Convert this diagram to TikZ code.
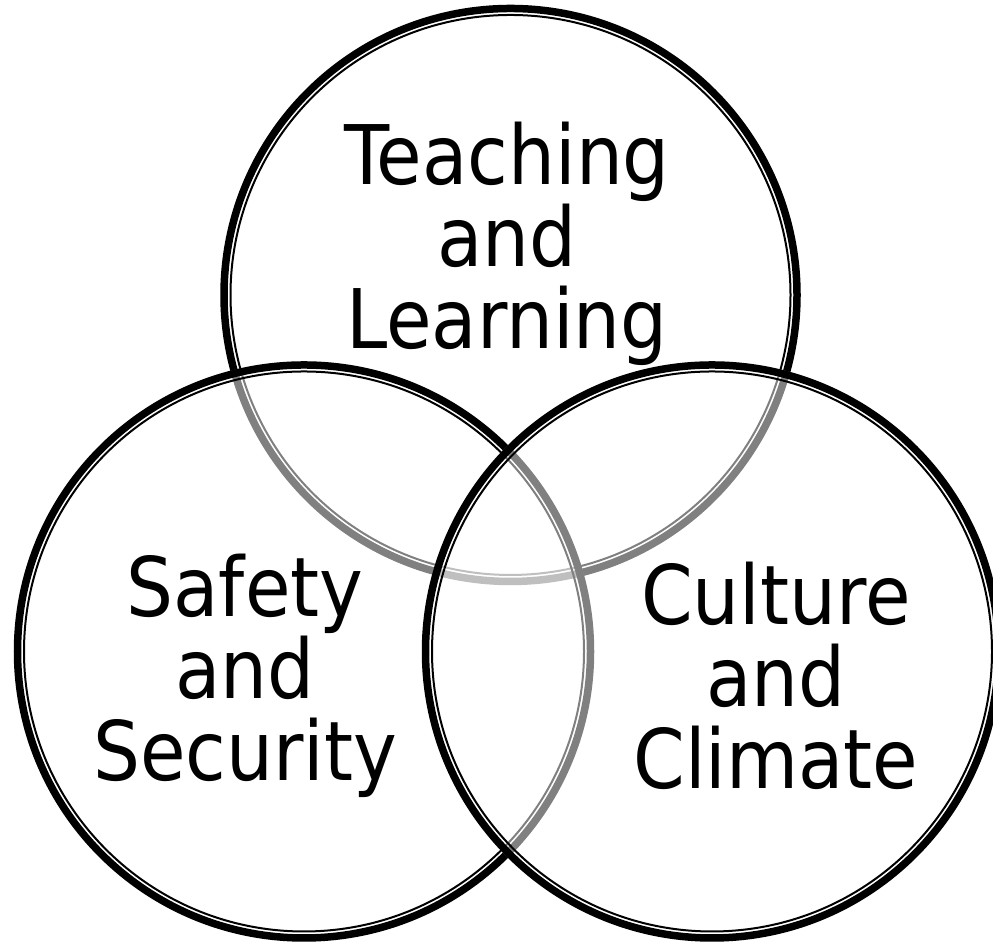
\documentclass[tikz,border=0pt]{standalone}
\usepackage{fontspec}
\setmainfont[FakeStretch=0.9]{DejaVu Sans}
\usepackage{tikz}
\usepackage{xcolor}

\tikzset{
  veil/.style={fill=white, fill opacity=0.5},
  outerring/.style={draw=black, line width=0.075cm},
  innerring/.style={draw=black, line width=0.02cm},
  label/.style={align=center, inner sep=0pt, font=\fontsize{23.4}{23.4}\selectfont}
}

\begin{document}
\begin{tikzpicture}
  \useasboundingbox (0,0) rectangle (9.93,9.42);
  \clip (0,0) rectangle (9.93,9.42);

  \coordinate (teach) at (5.105,6.47);
  \coordinate (safe) at (3.04,2.905);
  \coordinate (cult) at (7.12,2.905);

  % top circle first, then left, then right
  \fill[veil] (teach) circle (2.90);
  \draw[outerring] (teach) circle (2.865);
  \draw[innerring] (teach) circle (2.80);

  \fill[veil] (safe) circle (2.90);
  \draw[outerring] (safe) circle (2.865);
  \draw[innerring] (safe) circle (2.80);

  \fill[veil] (cult) circle (2.90);
  \draw[outerring] (cult) circle (2.865);
  \draw[innerring] (cult) circle (2.80);

  \node[label] (teachtext) at (5.07,6.98) {Teaching\\and\\Learning};
  \node[label] (safetext) at (2.45,2.66) {Safety\\and\\Security};
  \node[label] (culttext) at (7.76,2.66) {Culture\\and\\Climate};

\end{tikzpicture}
\end{document}
